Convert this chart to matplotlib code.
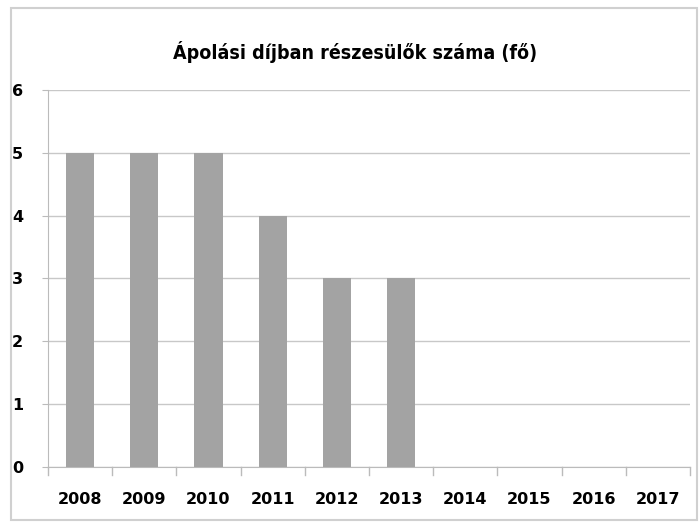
import matplotlib
matplotlib.use("Agg")
import matplotlib.pyplot as plt
from matplotlib.patches import Rectangle

years = ["2008", "2009", "2010", "2011", "2012", "2013", "2014", "2015", "2016", "2017"]
values = [5, 5, 5, 4, 3, 3, 0, 0, 0, 0]
yticks = [0, 1, 2, 3, 4, 5, 6]

plt.rcParams['font.family'] = ['DejaVu Sans']
fig = plt.figure(figsize=(7, 5.23), dpi=100)
ax = fig.add_axes([0.0686, 0.107, 0.917, 0.721])

x = list(range(len(years)))
ax.bar(x, values, width=0.44, color="#a3a3a3", zorder=3)
ax.set_xlim(-0.5, len(years) - 0.5)
ax.set_ylim(0, 6)
ax.set_yticks(yticks)
ax.set_yticklabels([str(t) for t in yticks], fontsize=11.5, fontweight='bold')
ax.set_xticks(x)
ax.set_xticklabels(years, fontsize=11.5, fontweight='bold')
ax.tick_params(axis='x', length=0, pad=18)
ax.tick_params(axis='y', length=4, color="#bbbbbb", pad=14)
for b in [i - 0.5 for i in range(len(years) + 1)]:
    ax.plot([b, b], [0, -0.12], color="#bbbbbb", lw=1, clip_on=False, zorder=2)
ax.grid(axis='y', color="#c8c8c8", lw=1, zorder=0)
for s in ['top', 'right']:
    ax.spines[s].set_visible(False)
ax.spines['left'].set_color("#bbbbbb")
ax.spines['bottom'].set_color("#bbbbbb")
fig.text(0.507, 0.9, "Ápolási díjban részesülők száma (fő)", ha='center', va='center',
         fontsize=14, fontweight='bold', fontstretch='condensed')
fig.patches.append(Rectangle((0.015, 0.005), 0.98, 0.98, transform=fig.transFigure,
                             fill=False, edgecolor="#d0d0d0", lw=1.5))
fig.savefig("out.png", dpi=100)
